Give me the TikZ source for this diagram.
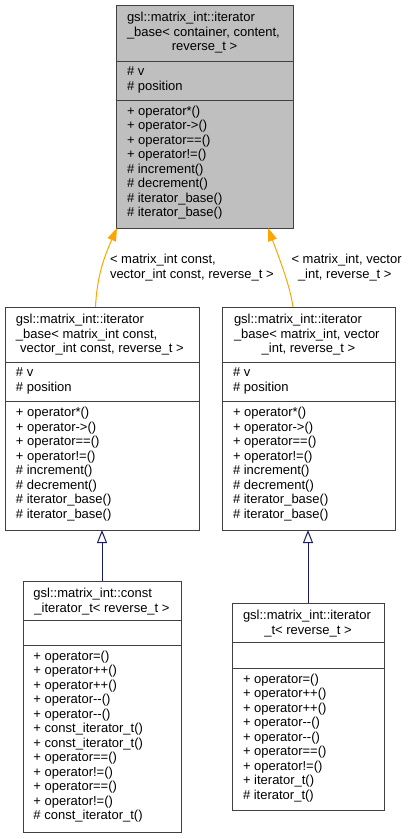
\documentclass[tikz,border=0pt]{standalone}
\usepackage{fontspec}
\setmainfont{Liberation Sans}[Ligatures=TeXOff]
\usetikzlibrary{arrows.meta}
\definecolor{dxorange}{RGB}{255,165,0}
\definecolor{dxnavy}{RGB}{25,25,112}
\definecolor{dxgray}{RGB}{191,191,191}
\definecolor{dxborder}{RGB}{64,64,64}
\tikzset{
  classbox/.style={draw=dxborder, line width=1pt, inner sep=0pt, outer sep=0pt, rectangle},
  sepline/.style={draw=dxborder, line width=1pt},
  txt/.style={anchor=base west, inner sep=0pt, outer sep=0pt, font=\fontsize{13}{14.5}\selectfont},
  ctxt/.style={anchor=base, inner sep=0pt, outer sep=0pt, font=\fontsize{13}{14.5}\selectfont},
  tmplink/.style={draw=dxorange, line width=1pt, -{Triangle[length=13pt,width=9pt,fill=dxorange]}},
  inhlink/.style={draw=dxnavy, line width=1pt, -{Triangle[open,length=13pt,width=10pt,fill=white]}}
}
\newcommand\dxmembers[4]{%
  \foreach \t [count=\i] in {#4} {\node[txt] (#1-\i) at ({#2},{#3+(\i-1)*14.5}) {\t};}}
\begin{document}
\begin{tikzpicture}[x=1pt,y=-1pt]
\useasboundingbox[fill=white] (0,0) rectangle (410,839);

% ---------- top box: iterator_base< container, content, reverse_t >
\node[classbox, fill=dxgray, minimum width=177pt, minimum height=223pt] (base) at (204.5,116.5) {};
\draw[sepline] (base.west |- 0,61) -- (base.east |- 0,61);
\draw[sepline] (base.west |- 0,100) -- (base.east |- 0,100);
\node[txt] (base-h1) at (127,21.5) {gsl::matrix\_int::iterator};
\node[txt] (base-h2) at (127,36) {\_base< container, content,};
\node[ctxt] (base-h3) at (204.5,50.5) {reverse\_t >};
\dxmembers{base-a}{127}{75.5}{\# v, \# position}
\dxmembers{base-m}{127}{115}{+ operator*(), + operator->(), + operator==(), + operator!=(), \# increment(), \# decrement(), \# iterator\_base(), \# iterator\_base()}

% ---------- middle left
\node[classbox, fill=white, minimum width=194pt, minimum height=223pt] (ml) at (102,418.5) {};
\draw[sepline] (ml.west |- 0,362) -- (ml.east |- 0,362);
\draw[sepline] (ml.west |- 0,401) -- (ml.east |- 0,401);
\node[txt] (ml-h1) at (16,323.5) {gsl::matrix\_int::iterator};
\node[txt] (ml-h2) at (16,338) {\_base< matrix\_int const,};
\node[ctxt] (ml-h3) at (102,352.5) {vector\_int const, reverse\_t >};
\dxmembers{ml-a}{16}{376.5}{\# v, \# position}
\dxmembers{ml-m}{16}{416.5}{+ operator*(), + operator->(), + operator==(), + operator!=(), \# increment(), \# decrement(), \# iterator\_base(), \# iterator\_base()}

% ---------- middle right
\node[classbox, fill=white, minimum width=173pt, minimum height=223pt] (mr) at (308.5,418.5) {};
\draw[sepline] (mr.west |- 0,362) -- (mr.east |- 0,362);
\draw[sepline] (mr.west |- 0,401) -- (mr.east |- 0,401);
\node[txt] (mr-h1) at (234,323.5) {gsl::matrix\_int::iterator};
\node[txt] (mr-h2) at (234,338) {\_base< matrix\_int, vector};
\node[ctxt] (mr-h3) at (308.5,352.5) {\_int, reverse\_t >};
\dxmembers{mr-a}{233}{376.5}{\# v, \# position}
\dxmembers{mr-m}{233}{416.5}{+ operator*(), + operator->(), + operator==(), + operator!=(), \# increment(), \# decrement(), \# iterator\_base(), \# iterator\_base()}

% ---------- bottom left
\node[classbox, fill=white, minimum width=158pt, minimum height=251pt] (bl) at (102,706.5) {};
\draw[sepline] (bl.west |- 0,620) -- (bl.east |- 0,620);
\draw[sepline] (bl.west |- 0,645) -- (bl.east |- 0,645);
\node[txt] (bl-h1) at (33.5,597.5) {gsl::matrix\_int::const};
\node[ctxt] (bl-h2) at (102,612) {\_iterator\_t< reverse\_t >};
\dxmembers{bl-m}{33.5}{660}{+ operator=(), + operator++(), + operator++(), + operator--(), + operator--(), + const\_iterator\_t(), + const\_iterator\_t(), + operator==(), + operator!=(), + operator==(), + operator!=(), \# const\_iterator\_t()}

% ---------- bottom right
\node[classbox, fill=white, minimum width=152pt, minimum height=207pt] (br) at (308,706.5) {};
\draw[sepline] (br.west |- 0,642) -- (br.east |- 0,642);
\draw[sepline] (br.west |- 0,668) -- (br.east |- 0,668);
\node[txt] (br-h1) at (243,619.5) {gsl::matrix\_int::iterator};
\node[ctxt] (br-h2) at (308,634) {\_t< reverse\_t >};
\dxmembers{br-m}{243}{683}{+ operator=(), + operator++(), + operator++(), + operator--(), + operator--(), + operator==(), + operator!=(), + iterator\_t(), \# iterator\_t()}

% ---------- template instantiation links (orange)
\draw[tmplink] ([xshift=-6.5pt]ml.north) .. controls (97,275) and (105,255) .. ([xshift=1pt]base.south west);
\draw[tmplink] ([xshift=-15.5pt]mr.north) .. controls (290,285) and (278,255) .. ([xshift=-25pt]base.south east);
\node[txt] (lab1a) at (110,263.5) {< matrix\_int const,};
\node[txt] (lab1b) at (110,278) {vector\_int const, reverse\_t >};
\node[txt] (lab2a) at (291.5,263.5) {< matrix\_int, vector};
\node[txt] (lab2b) at (298,278) {\_int, reverse\_t >};

% ---------- inheritance links (navy)
\draw[inhlink] (bl.north) -- (ml.south);
\draw[inhlink] (br.north) -- ([xshift=-0.5pt]mr.south);
\end{tikzpicture}
\end{document}
